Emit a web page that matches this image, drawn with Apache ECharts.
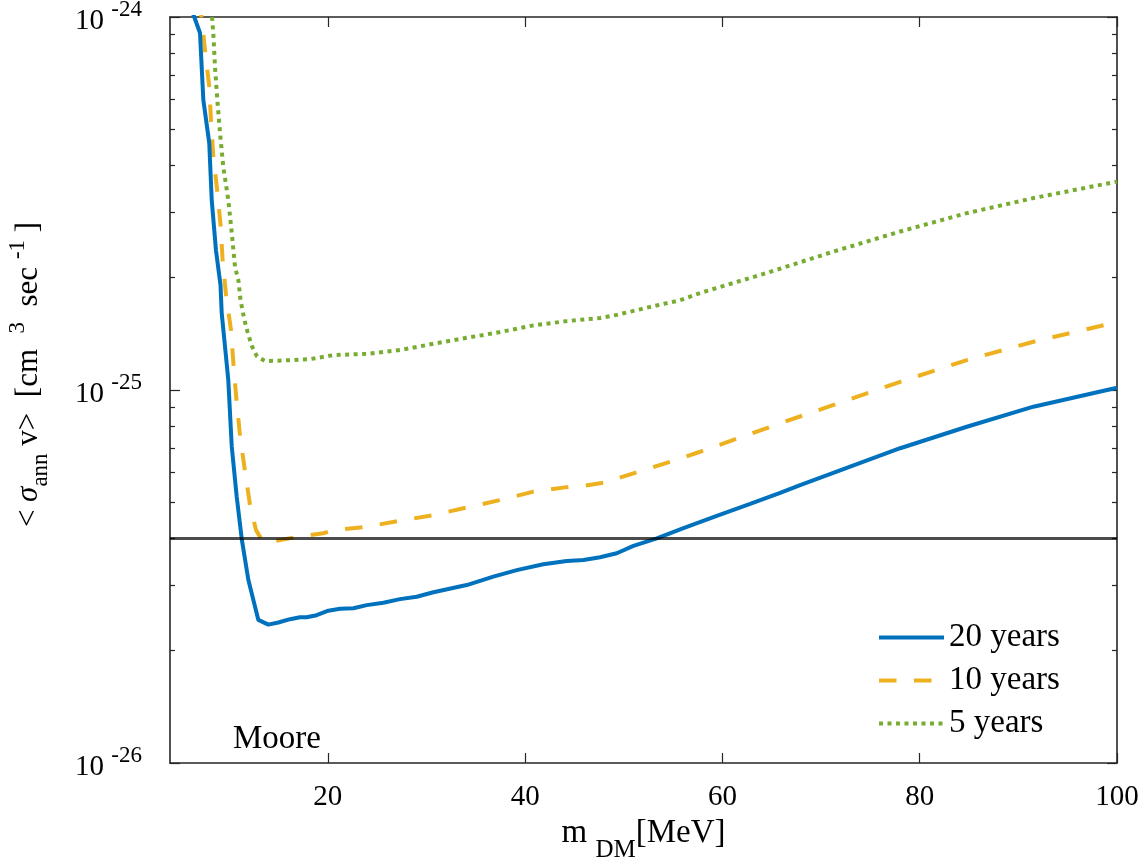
<!DOCTYPE html>
<html>
<head>
<meta charset="utf-8">
<script src="https://cdn.jsdelivr.net/npm/echarts@6/dist/echarts.min.js"></script>
<style>html,body{margin:0;padding:0;background:#fff}#c{width:1146px;height:865px}</style>
</head>
<body>
<div id="c"></div>
<script>
// ---- data (m_DM in MeV, <sigma v> in cm^3/s) ----
const blueX = [5.85, 6.46, 7.04, 7.38, 7.98, 8.23, 8.66, 9.12, 9.24, 9.91, 10.26, 10.76, 11.27, 11.94, 12.95, 13.97, 14.98, 16.17, 17.18, 17.86, 18.87, 20.05, 21.24, 22.59, 23.94, 25.63, 27.32, 29.01, 30.70, 34.08, 36.78, 39.15, 41.85, 44.22, 45.91, 47.60, 49.29, 50.98, 53.35, 56.05, 59.43, 62.81, 65.85, 67.88, 72.95, 78.02, 84.78, 91.53, 100];
const blueY = [1.11e-24, 1.0e-24, 9.06e-25, 5.99e-25, 4.59e-25, 3.23e-25, 2.37e-25, 1.91e-25, 1.61e-25, 1.063e-25, 7.05e-26, 5.18e-26, 3.99e-26, 3.10e-26, 2.42e-26, 2.35e-26, 2.38e-26, 2.43e-26, 2.46e-26, 2.46e-26, 2.49e-26, 2.56e-26, 2.59e-26, 2.60e-26, 2.65e-26, 2.69e-26, 2.75e-26, 2.79e-26, 2.87e-26, 3.00e-26, 3.16e-26, 3.29e-26, 3.41e-26, 3.48e-26, 3.50e-26, 3.56e-26, 3.65e-26, 3.82e-26, 4.00e-26, 4.26e-26, 4.60e-26, 4.95e-26, 5.30e-26, 5.56e-26, 6.23e-26, 6.98e-26, 7.97e-26, 9.02e-26, 1.014e-25];

const orangeX = [6.99, 7.19, 7.55, 7.98, 8.16, 8.39, 8.80, 9.14, 9.34, 9.68, 10.18, 10.44, 10.74, 11.10, 11.60, 12.11, 12.72, 13.33, 13.84, 16.50, 19.54, 20.56, 23.94, 27.32, 30.70, 34.08, 37.46, 40.84, 44.22, 45.91, 47.94, 50.98, 54.70, 57.74, 61.12, 65.85, 71.26, 78.02, 84.78, 91.53, 100];
const orangeY = [1.11e-24, 1.0e-24, 8.16e-25, 6.50e-25, 5.24e-25, 4.22e-25, 3.40e-25, 2.74e-25, 2.21e-25, 1.80e-25, 1.45e-25, 1.167e-25, 9.40e-26, 7.53e-26, 6.06e-26, 4.92e-26, 4.21e-26, 3.96e-26, 3.90e-26, 4.02e-26, 4.13e-26, 4.21e-26, 4.30e-26, 4.46e-26, 4.62e-26, 4.84e-26, 5.07e-26, 5.34e-26, 5.49e-26, 5.53e-26, 5.64e-26, 5.98e-26, 6.42e-26, 6.83e-26, 7.35e-26, 8.14e-26, 9.12e-26, 1.052e-25, 1.203e-25, 1.347e-25, 1.52e-25];

const greenX = [8.06, 8.26, 8.39, 8.56, 8.80, 9.07, 9.40, 9.91, 10.26, 10.59, 10.93, 11.15, 11.50, 11.86, 12.31, 12.82, 13.63, 15.49, 18.20, 20.56, 23.94, 27.32, 30.70, 34.08, 37.46, 40.84, 44.22, 47.60, 49.29, 52.67, 55.71, 57.74, 64.50, 71.26, 78.02, 84.78, 91.53, 100];
const greenY = [1.11e-24, 1.0e-24, 9.04e-25, 7.36e-25, 5.99e-25, 4.89e-25, 3.97e-25, 3.23e-25, 2.64e-25, 2.14e-25, 1.97e-25, 1.74e-25, 1.56e-25, 1.43e-25, 1.31e-25, 1.23e-25, 1.196e-25, 1.20e-25, 1.21e-25, 1.24e-25, 1.25e-25, 1.28e-25, 1.33e-25, 1.38e-25, 1.43e-25, 1.49e-25, 1.53e-25, 1.56e-25, 1.59e-25, 1.67e-25, 1.74e-25, 1.82e-25, 2.06e-25, 2.35e-25, 2.66e-25, 2.98e-25, 3.27e-25, 3.62e-25];

const thresholdX = [4, 100];
const thresholdY = 4e-26;

const seriesNames = ['20 years', '10 years', '5 years'];
const xTicks = [20, 40, 60, 80, 100];
const xRange = [4, 100];
const yRange = [1e-26, 1e-24];
const yMinorTicks = [2, 3, 4, 5, 6, 7, 8, 9];
const annotation = 'Moore';

// ---- build: y axis is a log10 axis (value axis over decade exponents) ----
const lg = v => Math.log10(v);
const zip = (xs, ys) => xs.map((x, i) => [x, lg(ys[i])]);
const expMin = Math.round(lg(yRange[0]));
const expMax = Math.round(lg(yRange[1]));
const minorLog = [];
for (let e = expMin; e < expMax; e++) yMinorTicks.forEach(k => minorLog.push(e + lg(k)));

const FONT = 'Liberation Serif';
const AX = '#262626';
const axLine = { show: true, lineStyle: { color: AX, width: 1.6 } };
const tickStyle = { color: AX, width: 1.2 };
const EN = '\u2002';

const chart = echarts.init(document.getElementById('c'));
chart.setOption({
  backgroundColor: '#fff',
  animation: false,
  title: { text: annotation, left: 228, top: 718, textStyle: { fontFamily: FONT, fontSize: 33, fontWeight: 'normal', color: '#000' } },
  grid: { left: 170, right: 29, top: 17, bottom: 102, outerBoundsMode: 'none', containLabel: false },
  legend: {
    data: seriesNames, orient: 'vertical', left: 872, top: 616,
    itemWidth: 65, itemHeight: 22, itemGap: 10,
    itemStyle: { opacity: 0 },
    lineStyle: { width: 4 },
    textStyle: { fontFamily: FONT, fontSize: 33, color: '#000' }
  },
  xAxis: [
    { type: 'value', min: xRange[0], max: xRange[1], position: 'bottom',
      axisLine: axLine,
      axisTick: { show: true, inside: true, length: 10, lineStyle: tickStyle, customValues: xTicks },
      axisLabel: { show: true, margin: 20, customValues: xTicks, fontFamily: FONT, fontSize: 29, color: '#000' },
      splitLine: { show: false },
      name: '{t|m }{s|DM}{t|[MeV]}', nameLocation: 'middle', nameGap: 50,
      nameTextStyle: { fontFamily: FONT, color: '#000', lineHeight: 46,
        rich: { t: { fontFamily: FONT, fontSize: 33, color: '#000', verticalAlign: 'top', lineHeight: 46 },
                s: { fontFamily: FONT, fontSize: 25, color: '#000', verticalAlign: 'bottom' } } }
    },
    { type: 'value', min: xRange[0], max: xRange[1], position: 'top',
      axisLine: axLine,
      axisTick: { show: true, inside: true, length: 10, lineStyle: tickStyle, customValues: xTicks },
      axisLabel: { show: false }, splitLine: { show: false } }
  ],
  yAxis: [
    { type: 'value', min: expMin, max: expMax, interval: 1, position: 'left',
      axisLine: axLine,
      axisTick: { show: true, inside: true, length: 10, lineStyle: tickStyle },
      axisLabel: { show: true, margin: 28, fontFamily: FONT, color: '#000', lineHeight: 38,
        formatter: v => '{a|10 }{b|' + Math.round(v) + '}',
        rich: { a: { fontFamily: FONT, fontSize: 29, color: '#000', verticalAlign: 'bottom' },
                b: { fontFamily: FONT, fontSize: 23, color: '#000', verticalAlign: 'top' } } },
      splitLine: { show: false },
      name: '{t|' + EN + EN + '< }{i|σ}{s|ann}{t| v>' + EN + '[cm' + EN + '}{p|3}{t|' + EN + 'sec }{p|-1}{t| ]}',
      nameLocation: 'middle', nameGap: 118, nameRotate: 90,
      nameTextStyle: { fontFamily: FONT, color: '#000', lineHeight: 46,
        rich: { t: { fontFamily: FONT, fontSize: 31, color: '#000' },
                i: { fontFamily: FONT, fontSize: 31, fontStyle: 'italic', color: '#000' },
                s: { fontFamily: FONT, fontSize: 23, color: '#000', verticalAlign: 'bottom' },
                p: { fontFamily: FONT, fontSize: 23, color: '#000', verticalAlign: 'top' } } }
    },
    { type: 'value', min: expMin, max: expMax, position: 'left',
      axisLine: { show: false },
      axisTick: { show: true, inside: true, length: 5, lineStyle: tickStyle, customValues: minorLog },
      axisLabel: { show: false }, splitLine: { show: false } },
    { type: 'value', min: expMin, max: expMax, interval: 1, position: 'right',
      axisLine: axLine,
      axisTick: { show: true, inside: true, length: 10, lineStyle: tickStyle },
      axisLabel: { show: false }, splitLine: { show: false } },
    { type: 'value', min: expMin, max: expMax, position: 'right',
      axisLine: { show: false },
      axisTick: { show: true, inside: true, length: 5, lineStyle: tickStyle, customValues: minorLog },
      axisLabel: { show: false }, splitLine: { show: false } }
  ],
  series: [
    { name: seriesNames[0], type: 'line', data: zip(blueX, blueY), xAxisIndex: 0, yAxisIndex: 0,
      symbol: 'none', showSymbol: false, clip: true, lineStyle: { color: '#0072BD', width: 4 }, itemStyle: { color: '#0072BD' }, z: 3 },
    { name: seriesNames[1], type: 'line', data: zip(orangeX, orangeY), xAxisIndex: 0, yAxisIndex: 0,
      symbol: 'none', showSymbol: false, clip: true, lineStyle: { color: '#EDB120', width: 4, type: [17.5, 17.5], cap: 'butt' }, itemStyle: { color: '#EDB120' }, z: 2 },
    { name: seriesNames[2], type: 'line', data: zip(greenX, greenY), xAxisIndex: 0, yAxisIndex: 0,
      symbol: 'none', showSymbol: false, clip: true, lineStyle: { color: '#77AC30', width: 4, type: [4, 4.5], cap: 'butt' }, itemStyle: { color: '#77AC30' }, z: 2 },
    { name: 'threshold', type: 'line', data: thresholdX.map(x => [x, lg(thresholdY)]), xAxisIndex: 0, yAxisIndex: 0,
      symbol: 'none', clip: true, lineStyle: { color: 'rgba(0,0,0,0.7)', width: 3 }, z: 5, silent: true }
  ]
});
</script>
</body>
</html>
